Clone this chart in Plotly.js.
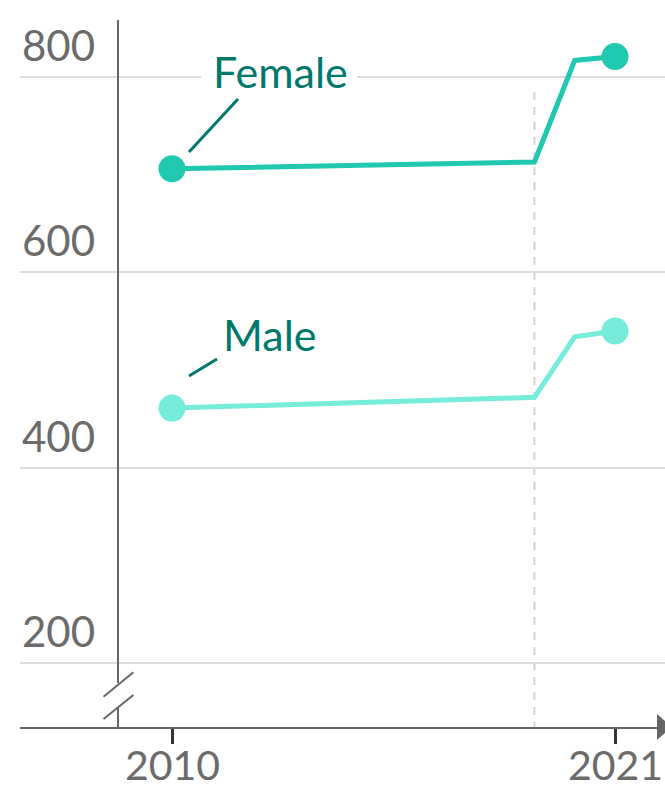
<!DOCTYPE html>
<html>
<head>
<meta charset="utf-8">
<script src="https://cdn.plot.ly/plotly-3.0.1.min.js"></script>
<style>html,body{margin:0;padding:0;background:#fff;}#chart{width:665px;height:790px;}</style>
</head>
<body>
<div id="chart"></div>
<script>
// ---- data ----
const years = [2010, 2019, 2020, 2021];
const female = [706, 713, 817, 821];
const male = [461, 472, 534, 540];
const xTickVals = [2010, 2021];
const xTickText = ['2010', '2021'];
const yTicks = [200, 400, 600, 800];
const seriesNames = ['Female', 'Male'];

// ---- pixel helpers for decorations ----
const px2x = p => 2010 + (p - 172) * 11 / 443;
const py2y = p => 800 - (p - 77) * 600 / 586;
const px2paper = p => (p - 20) / 645;
const py2paper = p => (727 - p) / 707;

const femaleColor = '#1fc8af';
const maleColor = '#76ecda';
const labelColor = '#00786a';
const axisColor = '#666666';
const textGray = '#6b6b6b';
const FONT = 'Lato, "Open Sans", sans-serif';

const ends = arr => [arr[0], arr[arr.length - 1]];

const traces = [
  { x: years, y: female, name: seriesNames[0], mode: 'lines',
    line: { color: femaleColor, width: 5 }, hoverinfo: 'skip', showlegend: false },
  { x: years, y: male, name: seriesNames[1], mode: 'lines',
    line: { color: maleColor, width: 5 }, hoverinfo: 'skip', showlegend: false },
  { x: ends(years), y: ends(female), mode: 'markers', opacity: 1,
    marker: { color: femaleColor, size: 27, opacity: 1, line: { width: 0 } }, hoverinfo: 'skip', showlegend: false },
  { x: ends(years), y: ends(male), mode: 'markers', opacity: 1,
    marker: { color: maleColor, size: 27, opacity: 1, line: { width: 0 } }, hoverinfo: 'skip', showlegend: false }
];

const line = (x0, y0, x1, y1, color, width, dash) => ({
  type: 'line', xref: 'paper', yref: 'paper', x0: px2paper(x0), y0: py2paper(y0), x1: px2paper(x1), y1: py2paper(y1),
  line: { color: color, width: width, dash: dash || 'solid' }, layer: 'above'
});

const shapes = [
  // dashed reference line at 2019
  { type: 'line', xref: 'x', yref: 'y', x0: 2019, x1: 2019, y0: py2y(92), y1: py2y(727),
    line: { color: '#d4d4d4', width: 2, dash: '8px,7px' }, layer: 'below' },
  // white mask behind Female label
  { type: 'rect', xref: 'paper', yref: 'paper', x0: px2paper(201), x1: px2paper(357), y0: py2paper(82), y1: py2paper(72),
    fillcolor: '#ffffff', line: { width: 0 }, layer: 'above' },
  // y axis line with break
  line(118, 20, 118, 683, axisColor, 2),
  line(118, 707, 118, 727, axisColor, 2),
  line(103.5, 696.7, 133.4, 672.3, axisColor, 2),
  line(103.5, 719, 133.4, 695, axisColor, 2),
  // leader lines
  line(189, 152, 238, 99, labelColor, 3),
  line(189, 376, 217, 359, labelColor, 3),
  // arrow head on x axis
  { type: 'path', xref: 'paper', yref: 'paper',
    path: 'M ' + px2paper(657) + ' ' + py2paper(714) + ' L ' + px2paper(672) + ' ' + py2paper(727) + ' L ' + px2paper(657) + ' ' + py2paper(740) + ' Z',
    fillcolor: axisColor, line: { width: 0 }, layer: 'above' }
];

const annotations = yTicks.map(v => ({
  xref: 'paper', yref: 'y', x: 0, y: v, xanchor: 'left', yanchor: 'bottom', yshift: 5,
  text: String(v), showarrow: false, font: { family: FONT, size: 42, color: textGray }
}));
xTickVals.forEach((v, i) => annotations.push({
  xref: 'x', yref: 'paper', x: v, y: py2paper(790), xanchor: 'center', yanchor: 'bottom', yshift: 0,
  borderpad: 0, text: xTickText[i], showarrow: false, font: { family: FONT, size: 41, color: textGray }
}));
annotations.push({ xref: 'x', yref: 'y', x: px2x(280), y: py2y(71), xanchor: 'center', yanchor: 'middle',
  text: seriesNames[0], showarrow: false, font: { family: FONT, size: 43, color: labelColor } });
annotations.push({ xref: 'x', yref: 'y', x: px2x(270), y: py2y(334), xanchor: 'center', yanchor: 'middle',
  text: seriesNames[1], showarrow: false, font: { family: FONT, size: 43, color: labelColor } });

const layout = {
  width: 665, height: 790,
  margin: { l: 20, r: 0, t: 20, b: 63 },
  paper_bgcolor: '#ffffff', plot_bgcolor: '#ffffff',
  showlegend: false,
  xaxis: {
    range: [px2x(20), px2x(665)], showgrid: false, zeroline: false,
    showline: true, linecolor: axisColor, linewidth: 2,
    tickvals: xTickVals, showticklabels: false, ticks: 'outside', ticklen: 15, tickwidth: 3, tickcolor: '#333333',
    fixedrange: true
  },
  yaxis: {
    range: [py2y(727), py2y(20)], tickvals: yTicks, showticklabels: false, ticks: '',
    showgrid: true, gridcolor: '#dddddd', gridwidth: 2, zeroline: false, showline: false, fixedrange: true
  },
  shapes: shapes,
  annotations: annotations
};

Plotly.newPlot('chart', traces, layout, { displayModeBar: false, staticPlot: true });
</script>
</body>
</html>
